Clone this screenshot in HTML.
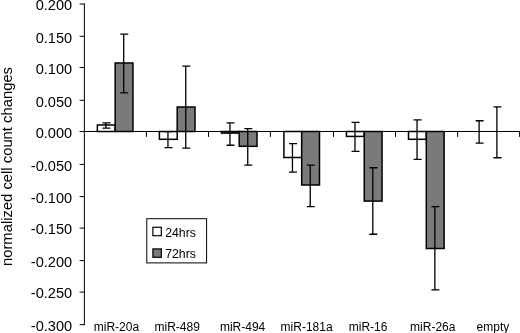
<!DOCTYPE html><html><head><meta charset="utf-8"><title>chart</title><style>html,body{margin:0;padding:0;background:#fff}svg{display:block}text{font-family:"Liberation Sans",Arial,sans-serif;fill:#000}</style></head><body>
<svg width="520" height="333" viewBox="0 0 520 333">
<rect width="520" height="333" fill="#fff"/>
<rect x="97.35" y="125.00" width="17.80" height="6.50" fill="#fff" stroke="#000" stroke-width="1.5"/>
<rect x="115.15" y="63.00" width="17.80" height="68.50" fill="#7a7a7a" stroke="#000" stroke-width="1.5"/>
<rect x="159.40" y="131.50" width="17.80" height="7.80" fill="#fff" stroke="#000" stroke-width="1.5"/>
<rect x="177.20" y="107.00" width="17.80" height="24.50" fill="#7a7a7a" stroke="#000" stroke-width="1.5"/>
<rect x="221.40" y="131.50" width="17.80" height="1.60" fill="#fff" stroke="#000" stroke-width="1.5"/>
<rect x="239.20" y="131.50" width="17.80" height="14.80" fill="#7a7a7a" stroke="#000" stroke-width="1.5"/>
<rect x="283.90" y="131.50" width="17.80" height="26.00" fill="#fff" stroke="#000" stroke-width="1.5"/>
<rect x="301.70" y="131.50" width="17.80" height="53.50" fill="#7a7a7a" stroke="#000" stroke-width="1.5"/>
<rect x="346.45" y="131.50" width="17.80" height="4.90" fill="#fff" stroke="#000" stroke-width="1.5"/>
<rect x="364.25" y="131.50" width="17.80" height="69.60" fill="#7a7a7a" stroke="#000" stroke-width="1.5"/>
<rect x="408.50" y="131.50" width="17.80" height="7.80" fill="#fff" stroke="#000" stroke-width="1.5"/>
<rect x="426.30" y="131.50" width="17.80" height="117.00" fill="#7a7a7a" stroke="#000" stroke-width="1.5"/>
<g stroke="#000" stroke-width="1" fill="none">
<line x1="84.4" y1="3.5" x2="84.4" y2="325.1"/>
<line x1="84.4" y1="131.5" x2="520" y2="131.5"/>
<line x1="79.6" y1="4.0" x2="84.4" y2="4.0"/>
<line x1="79.6" y1="36.3" x2="84.4" y2="36.3"/>
<line x1="79.6" y1="67.5" x2="84.4" y2="67.5"/>
<line x1="79.6" y1="100.3" x2="84.4" y2="100.3"/>
<line x1="79.6" y1="131.5" x2="84.4" y2="131.5"/>
<line x1="79.6" y1="164.4" x2="84.4" y2="164.4"/>
<line x1="79.6" y1="196.6" x2="84.4" y2="196.6"/>
<line x1="79.6" y1="228.1" x2="84.4" y2="228.1"/>
<line x1="79.6" y1="260.6" x2="84.4" y2="260.6"/>
<line x1="79.6" y1="292.1" x2="84.4" y2="292.1"/>
<line x1="79.6" y1="324.7" x2="84.4" y2="324.7"/>
<line x1="146.40" y1="131.5" x2="146.40" y2="136.9"/>
<line x1="208.50" y1="131.5" x2="208.50" y2="136.9"/>
<line x1="270.40" y1="131.5" x2="270.40" y2="136.9"/>
<line x1="333.50" y1="131.5" x2="333.50" y2="136.9"/>
<line x1="395.50" y1="131.5" x2="395.50" y2="136.9"/>
<line x1="457.60" y1="131.5" x2="457.60" y2="136.9"/>
<line x1="519.60" y1="131.5" x2="519.60" y2="136.9"/>
</g>
<g stroke="#000" stroke-width="1.3" fill="none">
<path d="M105.90 122.7 V128.0 M102.45 122.85 H110.45 M102.45 128.15 H110.45"/>
<path d="M123.70 34.0 V92.8 M120.25 34.15 H128.25 M120.25 92.95 H128.25"/>
<path d="M167.95 131.4 V147.5 M164.50 131.55 H172.50 M164.50 147.65 H172.50"/>
<path d="M185.75 66.0 V147.9 M182.30 66.15 H190.30 M182.30 148.05 H190.30"/>
<path d="M229.95 122.7 V145.1 M226.50 122.85 H234.50 M226.50 145.25 H234.50"/>
<path d="M247.75 128.5 V165.0 M244.30 128.65 H252.30 M244.30 165.15 H252.30"/>
<path d="M292.45 143.5 V172.0 M289.00 143.65 H297.00 M289.00 172.15 H297.00"/>
<path d="M310.25 165.0 V206.4 M306.80 165.15 H314.80 M306.80 206.55 H314.80"/>
<path d="M355.00 122.2 V151.2 M351.55 122.35 H359.55 M351.55 151.35 H359.55"/>
<path d="M372.80 167.6 V234.1 M369.35 167.75 H377.35 M369.35 234.25 H377.35"/>
<path d="M417.05 119.8 V159.2 M413.60 119.95 H421.60 M413.60 159.35 H421.60"/>
<path d="M434.85 206.5 V289.8 M431.40 206.65 H439.40 M431.40 289.95 H439.40"/>
<path d="M479.10 120.6 V143.0 M475.65 120.75 H483.65 M475.65 143.15 H483.65"/>
<path d="M496.90 106.8 V157.6 M493.45 106.95 H501.45 M493.45 157.75 H501.45"/>
</g>
<text x="72.2" y="10.2" font-size="14.6" text-anchor="end">0.200</text>
<text x="72.2" y="42.5" font-size="14.6" text-anchor="end">0.150</text>
<text x="72.2" y="73.7" font-size="14.6" text-anchor="end">0.100</text>
<text x="72.2" y="106.5" font-size="14.6" text-anchor="end">0.050</text>
<text x="72.2" y="137.7" font-size="14.6" text-anchor="end">0.000</text>
<text x="72.2" y="170.6" font-size="14.6" text-anchor="end">-0.050</text>
<text x="72.2" y="202.8" font-size="14.6" text-anchor="end">-0.100</text>
<text x="72.2" y="234.3" font-size="14.6" text-anchor="end">-0.150</text>
<text x="72.2" y="266.8" font-size="14.6" text-anchor="end">-0.200</text>
<text x="72.2" y="298.3" font-size="14.6" text-anchor="end">-0.250</text>
<text x="72.2" y="330.9" font-size="14.6" text-anchor="end">-0.300</text>
<text x="116.4" y="330.6" font-size="12" text-anchor="middle">miR-20a</text>
<text x="177.2" y="330.6" font-size="12" text-anchor="middle">miR-489</text>
<text x="242.6" y="330.6" font-size="12" text-anchor="middle">miR-494</text>
<text x="306.6" y="330.6" font-size="12" text-anchor="middle">miR-181a</text>
<text x="368.1" y="330.6" font-size="12" text-anchor="middle">miR-16</text>
<text x="432.8" y="330.6" font-size="12" text-anchor="middle">miR-26a</text>
<text x="492.9" y="330.6" font-size="12" text-anchor="middle">empty</text>
<text transform="translate(11.6,166.5) rotate(-90)" font-size="14.8" text-anchor="middle">normalized cell count changes</text>
<rect x="146.8" y="218.7" width="59.8" height="44.2" fill="#fff" stroke="#000" stroke-width="1"/>
<rect x="152.9" y="227.3" width="8.4" height="8.4" fill="#fff" stroke="#000" stroke-width="1.2"/>
<rect x="152.9" y="248.9" width="8.4" height="8.4" fill="#7a7a7a" stroke="#000" stroke-width="1.2"/>
<text x="165.2" y="236.8" font-size="12.3">24hrs</text>
<text x="165.2" y="258.4" font-size="12.3">72hrs</text>
</svg></body></html>
